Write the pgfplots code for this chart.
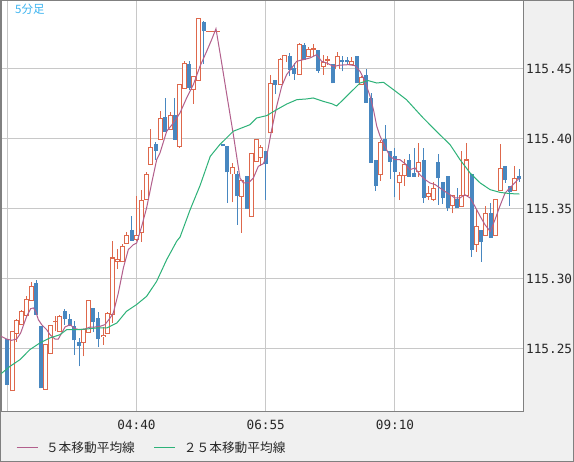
\documentclass[border=0pt]{standalone}
\usepackage{pgfplots}
\pgfplotsset{compat=1.18}
\usepackage{pgfplotstable}
\usepackage{fontspec}
\setmainfont{Liberation Sans}
\setmonofont{DejaVu Sans Mono}
\newfontfamily\cjk{Noto Sans CJK JP}

\definecolor{bgc}{RGB}{240,240,240}
\definecolor{frc}{RGB}{128,128,128}
\definecolor{gridc}{RGB}{200,200,200}
\definecolor{upc}{RGB}{222,104,76}
\definecolor{dnc}{RGB}{72,135,192}
\definecolor{mafive}{RGB}{178,95,140}
\definecolor{matwentyfive}{RGB}{45,178,120}
\definecolor{lblc}{RGB}{60,180,240}
\definecolor{txtc}{RGB}{40,40,40}

\pgfplotsset{
  ebar/.style n args={2}{forget plot, draw=none, mark=none,
    error bars/y dir=plus, error bars/y explicit, error bars/error mark=none,
    error bars/error bar style={draw=#1, line width=#2, solid}},
  isup/.style={x filter/.expression={\thisrow{C}>=\thisrow{O} ? x : nan}},
  isdn/.style={x filter/.expression={\thisrow{C}<\thisrow{O} ? x : nan}},
  isbig/.style={x filter/.expression={\thisrow{C}-\thisrow{O}>0.00075 ? x : nan}},
}

\pgfplotstableread{
k O H L C
0 115.2571 115.2571 115.2245 115.2245
1 115.2202 115.2630 115.2202 115.2624
2 115.2614 115.2714 115.2550 115.2702
3 115.2674 115.2780 115.2674 115.2771
4 115.2740 115.2881 115.2729 115.2852
5 115.2848 115.2981 115.2848 115.2945
6 115.2974 115.2995 115.2745 115.2745
7 115.2667 115.2667 115.2219 115.2219
8 115.2214 115.2531 115.2214 115.2531
9 115.2471 115.2671 115.2464 115.2671
10 115.2693 115.2733 115.2626 115.2698
11 115.2626 115.2745 115.2626 115.2729
12 115.2771 115.2786 115.2674 115.2714
13 115.2717 115.2748 115.2662 115.2662
14 115.2667 115.2698 115.2460 115.2562
15 115.2552 115.2579 115.2376 115.2524
16 115.2548 115.2638 115.2448 115.2638
17 115.2619 115.2843 115.2619 115.2843
18 115.2795 115.2795 115.2621 115.2690
19 115.2724 115.2762 115.2512 115.2571
20 115.2590 115.2657 115.2531 115.2598
21 115.2614 115.2762 115.2614 115.2752
22 115.2745 115.3274 115.2686 115.3150
23 115.3126 115.3217 115.3071 115.3136
24 115.3124 115.3250 115.3124 115.3229
25 115.3252 115.3333 115.3252 115.3314
26 115.3352 115.3452 115.3274 115.3274
27 115.3281 115.3595 115.3274 115.3312
28 115.3333 115.3638 115.3267 115.3564
29 115.3571 115.3764 115.3571 115.3745
30 115.3821 115.4074 115.3821 115.3936
31 115.3964 115.3976 115.3852 115.3914
32 115.3995 115.4198 115.3995 115.4150
33 115.4155 115.4293 115.4050 115.4050
34 115.4067 115.4190 115.4067 115.4171
35 115.4171 115.4293 115.3995 115.3995
36 115.3948 115.4386 115.3936 115.4386
37 115.4364 115.4555 115.4364 115.4536
38 115.4538 115.4555 115.4352 115.4364
39 115.4352 115.4448 115.4250 115.4448
40 115.4419 115.4864 115.4419 115.4864
41 115.4836 115.4845 115.4536 115.4769
42 115.4771 115.4771 115.4771 115.4771
43 115.4771 115.4771 115.4771 115.4771
44 115.4771 115.4771 115.4771 115.4771
45 115.3967 115.3967 115.3948 115.3948
46 115.3952 115.3952 115.3543 115.3762
47 115.3750 115.3829 115.3548 115.3793
48 115.3752 115.3769 115.3388 115.3590
49 115.3590 115.3702 115.3329 115.3702
50 115.3738 115.3738 115.3500 115.3500
51 115.3448 115.3895 115.3448 115.3895
52 115.3838 115.4000 115.3838 115.4000
53 115.3871 115.3960 115.3807 115.3936
54 115.3917 115.3917 115.3567 115.3821
55 115.4043 115.4460 115.4043 115.4400
56 115.4424 115.4424 115.4321 115.4388
57 115.4388 115.4579 115.4388 115.4571
58 115.4550 115.4598 115.4550 115.4598
59 115.4595 115.4614 115.4448 115.4490
60 115.4507 115.4543 115.4424 115.4464
61 115.4464 115.4686 115.4464 115.4674
62 115.4674 115.4686 115.4567 115.4567
63 115.4586 115.4660 115.4586 115.4638
64 115.4640 115.4676 115.4593 115.4645
65 115.4638 115.4638 115.4471 115.4488
66 115.4519 115.4600 115.4460 115.4543
67 115.4562 115.4590 115.4531 115.4567
68 115.4536 115.4536 115.4398 115.4398
69 115.4500 115.4620 115.4500 115.4590
70 115.4567 115.4590 115.4483 115.4548
71 115.4567 115.4586 115.4530 115.4548
72 115.4534 115.4586 115.4534 115.4555
73 115.4593 115.4593 115.4398 115.4398
74 115.4386 115.4450 115.4386 115.4436
75 115.4457 115.4500 115.4259 115.4259
76 115.4291 115.4329 115.3831 115.3831
77 115.3850 115.3850 115.3631 115.3664
78 115.3743 115.3993 115.3702 115.3974
79 115.3998 115.4100 115.3917 115.3917
80 115.3914 115.3914 115.3714 115.3836
81 115.3881 115.3933 115.3583 115.3767
82 115.3688 115.3767 115.3564 115.3736
83 115.3736 115.3859 115.3664 115.3819
84 115.3850 115.3893 115.3731 115.3731
85 115.3755 115.3933 115.3731 115.3731
86 115.3767 115.3969 115.3731 115.3833
87 115.3850 115.3938 115.3545 115.3581
88 115.3588 115.3667 115.3564 115.3612
89 115.3570 115.3695 115.3557 115.3648
90 115.3838 115.3893 115.3531 115.3719
91 115.3690 115.3690 115.3536 115.3576
92 115.3736 115.3736 115.3488 115.3509
93 115.3524 115.3593 115.3469 115.3593
94 115.3569 115.3650 115.3509 115.3509
95 115.3521 115.3917 115.3521 115.3593
96 115.3593 115.3974 115.3593 115.3850
97 115.3750 115.3750 115.3159 115.3207
98 115.3248 115.3500 115.3195 115.3374
99 115.3350 115.3350 115.3124 115.3267
100 115.3310 115.3524 115.3310 115.3469
101 115.3469 115.3541 115.3295 115.3295
102 115.3310 115.3569 115.3310 115.3569
103 115.3629 115.3964 115.3629 115.3786
104 115.3805 115.3805 115.3686 115.3707
105 115.3664 115.3664 115.3524 115.3624
106 115.3631 115.3807 115.3631 115.3719
107 115.3736 115.3788 115.3695 115.3714
}\candles

\begin{document}
\begin{tikzpicture}
\useasboundingbox (0,0) rectangle (574bp,462bp);
\fill[bgc] (0,0) rectangle (574bp,462bp);
\begin{axis}[
  at={(1bp,50bp)}, anchor=south west,
  width=522bp, height=411bp, scale only axis,
  xmin=-1.316, xmax=107.75,
  ymin=115.205, ymax=115.498571,
  axis background/.style={fill=white},
  axis line style={draw=frc, line width=1bp},
  xmajorgrids, ymajorgrids,
  major grid style={draw=gridc, line width=1bp},
  xtick={0,27,54,81}, xticklabels={,04:40,06:55,09:10},
  ytick={115.25,115.30,115.35,115.40,115.45},
  scaled y ticks=false,
  yticklabel pos=right,
  major tick length=0pt,
  /pgf/number format/assume math mode=true,
  yticklabel style={/pgf/number format/.cd, fixed, fixed zerofill, precision=2, /tikz/.cd,
    anchor=west, xshift=3bp, inner sep=0pt, text=txtc,
    font=\ttfamily\fontsize{12.7bp}{14bp}\selectfont},
  xticklabel style={anchor=center, yshift=-13bp, inner sep=0pt, text=txtc,
    font=\ttfamily\fontsize{12.7bp}{14bp}\selectfont},
  legend columns=2,
  legend cell align=left,
  legend image code/.code={\draw[#1, line width=1bp] (0bp,0bp) -- (21bp,0bp); \path (29bp,0bp);},
  legend style={at={(0.02874,-0.08759)}, anchor=west, draw=none, fill=none,
    inner sep=0pt, outer sep=0pt, text=txtc,
    font=\cjk\fontsize{12.7bp}{14bp}\selectfont,
    nodes={inner sep=0pt},
    /tikz/every even column/.append style={column sep=19bp}},
]
% up candles: wick, outline, white interior
\addplot[isup, ebar={upc}{1bp}] table[x=k, y=L, y error plus expr=\thisrow{H}-\thisrow{L}] {\candles};
\addplot[isup, ebar={upc}{5bp}] table[x=k, y expr=\thisrow{O}-0.000357, y error plus expr=\thisrow{C}-\thisrow{O}+0.000714] {\candles};
\addplot[isbig, ebar={white}{3bp}] table[x=k, y expr=\thisrow{O}+0.000357, y error plus expr=\thisrow{C}-\thisrow{O}-0.000714] {\candles};
% down candles: wick, filled body
\addplot[isdn, ebar={dnc}{1bp}] table[x=k, y=L, y error plus expr=\thisrow{H}-\thisrow{L}] {\candles};
\addplot[isdn, ebar={dnc}{4bp}] table[x=k, y=C, y error plus expr=\thisrow{O}-\thisrow{C}] {\candles};

\addplot[mafive, line width=1bp] coordinates {
(-1.53,115.2595) (-0.13,115.2571) (0.91,115.2562) (1.96,115.2571) (2.79,115.2614)
(4.05,115.2733) (4.88,115.2788) (5.44,115.2793) (5.93,115.2770) (6.48,115.2710)
(7.18,115.2674) (8.22,115.2638) (8.92,115.2602) (9.97,115.2571) (10.66,115.2571)
(11.36,115.2614) (12.06,115.2657) (13.1,115.2674) (14.15,115.2645) (15.19,115.2638)
(16.23,115.2643) (17.28,115.2657) (18.33,115.2657) (19.37,115.2662) (20.41,115.2674)
(21.46,115.2721) (22.15,115.2757) (23.2,115.2900) (24.25,115.3079) (25.29,115.3210)
(26.33,115.3245) (27.03,115.3257) (28.08,115.3376) (29.12,115.3510) (30.17,115.3686)
(31.21,115.3852) (31.9,115.3900) (33.3,115.4055) (34.7,115.4114) (36.08,115.4186)
(37.47,115.4293) (38.87,115.4388) (40.26,115.4519) (41.65,115.4626) (42.7,115.4710)
(43.6,115.4788) (44.79,115.4543) (45.97,115.4293) (47.23,115.4031) (48.62,115.3721)
(49.32,115.3686) (50.36,115.3686) (51.41,115.3721) (52.45,115.3805) (53.5,115.3824)
(54.2,115.3876) (55.24,115.4067) (56.28,115.4233) (57.33,115.4376) (58.37,115.4460)
(59.42,115.4507) (60.46,115.4555) (61.85,115.4567) (63.25,115.4579) (64.64,115.4602)
(65.68,115.4555) (66.73,115.4543) (68.12,115.4519) (69.51,115.4527) (71.26,115.4531)
(72.65,115.4524) (73.7,115.4483) (74.74,115.4412) (75.8,115.4305) (76.5,115.4210)
(77.2,115.4090) (77.9,115.4019) (78.9,115.3948) (79.95,115.3876) (81,115.3852)
(82.05,115.3852) (83.1,115.3824) (84.1,115.3781) (85.2,115.3793) (86.2,115.3745)
(87.3,115.3710) (88.3,115.3686) (89.4,115.3674) (90.4,115.3650) (91.4,115.3626)
(92.5,115.3602) (93.5,115.3579) (94.6,115.3579) (95.6,115.3602) (96.7,115.3579)
(97.7,115.3519) (98.8,115.3448) (99.8,115.3388) (100.9,115.3340) (101.9,115.3424)
(102.9,115.3519) (104,115.3614) (105,115.3650) (106,115.3686) (107,115.3721)
};
\addlegendentry{５本移動平均線}

\addplot[matwentyfive, line width=1bp] coordinates {
(-1.53,115.2317) (0.56,115.2376) (2.65,115.2424) (4.7,115.2495) (6.8,115.2543)
(8.9,115.2579) (11,115.2602) (12.4,115.2638) (14.5,115.2638) (16.6,115.2643)
(18.7,115.2650) (20.8,115.2650) (22.9,115.2686) (24.9,115.2769) (27,115.2817)
(29.1,115.2876) (31.2,115.2983) (33.3,115.3138) (35.4,115.3270) (36.1,115.3300)
(38.2,115.3495) (40.3,115.3670) (42.4,115.3876) (44.4,115.3960) (45.8,115.4007)
(47.2,115.4055) (48.6,115.4074) (50.7,115.4102) (52.1,115.4150) (54.2,115.4167)
(56.3,115.4210) (58.4,115.4250) (60.5,115.4281) (62.5,115.4286) (63.9,115.4293)
(66,115.4269) (67.8,115.4252) (68.8,115.4236) (70.2,115.4281) (71.6,115.4329)
(73.7,115.4400) (75.4,115.4417) (77.2,115.4400) (78.6,115.4405) (80.7,115.4352)
(83.4,115.4281) (86.9,115.4150) (90.4,115.4030) (92.5,115.3960) (94.6,115.3852)
(96.7,115.3757) (98.8,115.3686) (100.9,115.3638) (102.9,115.3619) (105,115.3610)
(107,115.3607)
};
\addlegendentry{２５本移動平均線}
\end{axis}
\node[anchor=west, inner sep=0pt, text=lblc, font=\cjk\fontsize{11.5bp}{13bp}\selectfont] at (15bp,452.5bp) {5分足};
\draw[frc, line width=1bp] (0.5bp,0.5bp) rectangle (573.5bp,461.5bp);
\end{tikzpicture}
\end{document}
